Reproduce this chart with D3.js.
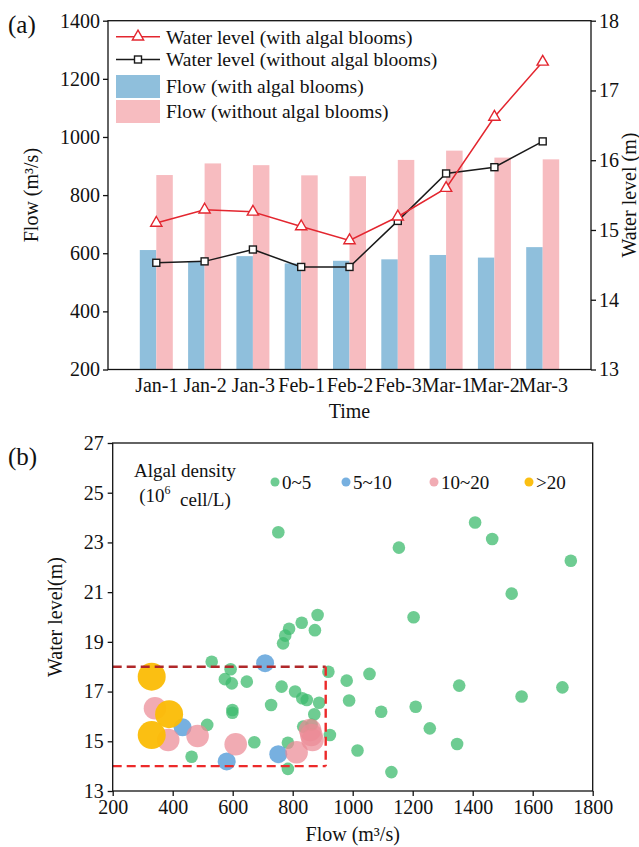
<!DOCTYPE html>
<html><head><meta charset="utf-8">
<script src="https://cdn.jsdelivr.net/npm/d3@7"></script>
<style>
body{margin:0;background:#fff;}
svg{display:block;}
text{font-family:"Liberation Serif","Times New Roman","DejaVu Serif",serif;fill:#111;}
</style></head>
<body>
<script>
// ---------- Data (a) ----------
const categories = ["Jan-1","Jan-2","Jan-3","Feb-1","Feb-2","Feb-3","Mar-1","Mar-2","Mar-3"];
const flowWith    = [611, 571, 590, 565, 574, 579, 594, 585, 621];
const flowWithout = [869, 909, 903, 868, 865, 921, 953, 929, 923];
const levelWith    = [15.10, 15.29, 15.26, 15.05, 14.85, 15.19, 15.60, 16.62, 17.41];
const levelWithout = [14.53, 14.55, 14.72, 14.47, 14.47, 15.13, 15.81, 15.90, 16.27];
const flowTicks  = [200, 400, 600, 800, 1000, 1200, 1400];
const levelTicks = [13, 14, 15, 16, 17, 18];

// ---------- Data (b) ----------
const green = [
 [752,23.41],[1408,23.8],[1465,23.14],[1154,22.79],[1727,22.26],[1530,20.94],[1203,19.99],
 [883,20.08],[830,19.77],[874,19.47],[788,19.53],[775,19.25],[768,18.94],
 [530,18.2],[593,17.9],[574,17.5],[597,17.33],[647,17.4],[599,16.26],[599,16.15],
 [515,15.66],[463,14.38],
 [919,17.8],[980,17.44],[1056,17.71],[763,17.2],[808,17.0],[832,16.73],[847,16.66],[888,16.55],
 [988,16.64],[728,16.46],[872,16.09],[1095,16.19],[835,15.59],[863,15.66],[924,15.25],
 [672,14.96],[784,14.94],[1016,14.63],[784,13.89],
 [1355,17.24],[1699,17.17],[1563,16.8],[1210,16.39],[1257,15.52],[1348,14.89],[1129,13.76]
];
const blue   = [[708,18.14],[433,15.56],[752,14.48],[580,14.19]];
const pink   = [[341,16.33],[385,15.05],[483,15.21],[610,14.88],[813,14.56],[858,15.45],[862,15.25],[866,15.05]];
const orange = [[330,17.6],[388,16.09],[330,15.25]];
const xTicksB = [200,400,600,800,1000,1200,1400,1600,1800];
const yTicksB = [13,15,17,19,21,23,25,27];
const densityLabels = ["0~5","5~10","10~20",">20"];
const boxRange = {x0:200, x1:910, y0:14, y1:18};

const W = 639, H = 847;
const svg = d3.select("body").append("svg").attr("width", W).attr("height", H);
const FS = 20, LFS = 19.5;
const FONT = "Liberation Serif, Times New Roman, serif";

// ================= Chart (a) =================
const aL = 108, aR = 591, aT = 20.7, aB = 369.5;
const xA = d3.scalePoint().domain(categories).range([aL, aR]).padding(1);
const yL = d3.scaleLinear().domain([200, 1400]).range([aB, aT]);
const yR = d3.scaleLinear().domain([13, 18]).range([aB, aT]);
const bw = 16.5;
const cBlue = "#8fbfdc", cPink = "#f7bcc0", cRed = "#e3262f", cBlack = "#1a1a1a";

const gA = svg.append("g");
gA.selectAll(".bw").data(categories).enter().append("rect")
  .attr("x", d => xA(d) - bw).attr("width", bw)
  .attr("y", (d,i) => yL(flowWith[i])).attr("height", (d,i) => yL(200) - yL(flowWith[i]))
  .attr("fill", cBlue);
gA.selectAll(".bwo").data(categories).enter().append("rect")
  .attr("x", d => xA(d)).attr("width", bw)
  .attr("y", (d,i) => yL(flowWithout[i])).attr("height", (d,i) => yL(200) - yL(flowWithout[i]))
  .attr("fill", cPink);

const lineGen = d3.line().x((d,i) => xA(categories[i])).y(d => yR(d));
gA.append("path").datum(levelWithout).attr("d", lineGen).attr("fill","none").attr("stroke",cBlack).attr("stroke-width",1.5);
gA.append("path").datum(levelWith).attr("d", lineGen).attr("fill","none").attr("stroke",cRed).attr("stroke-width",1.5);

const sq = 7;
gA.selectAll(".sq").data(levelWithout).enter().append("rect")
  .attr("x",(d,i)=>xA(categories[i]) - sq/2).attr("y", d => yR(d) - sq/2)
  .attr("width",sq).attr("height",sq).attr("fill","#fff").attr("stroke",cBlack).attr("stroke-width",1.4);
const tri = d3.symbol().type(d3.symbolTriangle).size(55);
gA.selectAll(".tri").data(levelWith).enter().append("path")
  .attr("d", tri).attr("transform",(d,i)=>`translate(${xA(categories[i])},${yR(d)})`)
  .attr("fill","#fff").attr("stroke",cRed).attr("stroke-width",1.4);

// frame
gA.append("rect").attr("x",aL).attr("y",aT).attr("width",aR-aL).attr("height",aB-aT)
  .attr("fill","none").attr("stroke","#111").attr("stroke-width",1.3);

const axL = gA.append("g").attr("transform",`translate(${aL},0)`)
  .call(d3.axisLeft(yL).tickValues(flowTicks).tickSize(5).tickPadding(3).tickFormat(d3.format("d")));
const axR = gA.append("g").attr("transform",`translate(${aR},0)`)
  .call(d3.axisRight(yR).tickValues(levelTicks).tickSize(5).tickPadding(3).tickFormat(d3.format("d")));
const axB = gA.append("g").attr("transform",`translate(0,${aB})`)
  .call(d3.axisBottom(xA).tickSize(0).tickPadding(8));
[axL, axR, axB].forEach(g => {
  g.attr("font-family", FONT);
  g.select(".domain").remove();
  g.selectAll("line").attr("stroke","#111").attr("stroke-width",1.3);
  g.selectAll("text").attr("font-size",FS).attr("fill","#111");
});

gA.append("text").attr("transform",`translate(38,${(aT+aB)/2}) rotate(-90)`)
  .attr("text-anchor","middle").attr("font-size",FS).text("Flow (m³/s)");
gA.append("text").attr("transform",`translate(636,${(aT+aB)/2}) rotate(-90)`)
  .attr("text-anchor","middle").attr("font-size",FS).text("Water level (m)");
gA.append("text").attr("x",(aL+aR)/2).attr("y",418).attr("text-anchor","middle").attr("font-size",FS).text("Time");
gA.append("text").attr("x",8).attr("y",33).attr("font-size",25).text("(a)");

// legend (a)
const lg = gA.append("g");
const lx0 = 116, lx1 = 160, ltx = 166;
lg.append("line").attr("x1",lx0).attr("x2",lx1).attr("y1",36.7).attr("y2",36.7).attr("stroke",cRed).attr("stroke-width",1.5);
lg.append("path").attr("d",tri).attr("transform",`translate(${(lx0+lx1)/2},36.7)`).attr("fill","#fff").attr("stroke",cRed).attr("stroke-width",1.4);
lg.append("text").attr("x",ltx).attr("y",36.7).attr("dy","0.35em").attr("font-size",LFS).text("Water level (with algal blooms)");
lg.append("line").attr("x1",lx0).attr("x2",lx1).attr("y1",59.5).attr("y2",59.5).attr("stroke",cBlack).attr("stroke-width",1.5);
lg.append("rect").attr("x",(lx0+lx1)/2 - sq/2).attr("y",59.5 - sq/2).attr("width",sq).attr("height",sq).attr("fill","#fff").attr("stroke",cBlack).attr("stroke-width",1.4);
lg.append("text").attr("x",ltx).attr("y",59.5).attr("dy","0.35em").attr("font-size",LFS).text("Water level (without algal blooms)");
lg.append("rect").attr("x",lx0).attr("y",75).attr("width",lx1-lx0).attr("height",23).attr("fill",cBlue);
lg.append("text").attr("x",ltx).attr("y",86).attr("dy","0.35em").attr("font-size",LFS).text("Flow (with algal blooms)");
lg.append("rect").attr("x",lx0).attr("y",100).attr("width",lx1-lx0).attr("height",23).attr("fill",cPink);
lg.append("text").attr("x",ltx).attr("y",111).attr("dy","0.35em").attr("font-size",LFS).text("Flow (without algal blooms)");

// ================= Chart (b) =================
const bL = 112.7, bR = 592.7, bT = 443, bB = 791;
const xB = d3.scaleLinear().domain([200,1800]).range([bL,bR]);
const yB = d3.scaleLinear().domain([13,27]).range([bB,bT]);
const gB = svg.append("g");

const groups = [
  {data: green,  r: 6.3,  fill: "#3dbb6e", op: 0.75},
  {data: blue,   r: 9,    fill: "#4a95d6", op: 0.75},
  {data: pink,   r: 11.3, fill: "#ec8a95", op: 0.72},
  {data: orange, r: 14,   fill: "#fbbc05", op: 0.95}
];
groups.forEach(g => {
  gB.append("g").selectAll("circle").data(g.data).enter().append("circle")
    .attr("cx", d => xB(d[0])).attr("cy", d => yB(d[1])).attr("r", g.r)
    .attr("fill", g.fill).attr("fill-opacity", g.op);
});

// dashed box
const dash = "9,5";
gB.append("line").attr("x1",xB(boxRange.x0)).attr("x2",xB(boxRange.x1)).attr("y1",yB(boxRange.y1)).attr("y2",yB(boxRange.y1))
  .attr("stroke","#b0282a").attr("stroke-width",2.4).attr("stroke-dasharray",dash);
gB.append("line").attr("x1",xB(boxRange.x0)).attr("x2",xB(boxRange.x1)).attr("y1",yB(boxRange.y0)).attr("y2",yB(boxRange.y0))
  .attr("stroke","#ec2a2a").attr("stroke-width",2.4).attr("stroke-dasharray",dash);
gB.append("line").attr("x1",xB(boxRange.x1)).attr("x2",xB(boxRange.x1)).attr("y1",yB(boxRange.y1)).attr("y2",yB(boxRange.y0))
  .attr("stroke","#ec2a2a").attr("stroke-width",2.4).attr("stroke-dasharray",dash);

gB.append("rect").attr("x",bL).attr("y",bT).attr("width",bR-bL).attr("height",bB-bT)
  .attr("fill","none").attr("stroke","#111").attr("stroke-width",1.3);
const bxL = gB.append("g").attr("transform",`translate(${bL},0)`)
  .call(d3.axisLeft(yB).tickValues(yTicksB).tickSize(5).tickPadding(4).tickFormat(d3.format("d")));
const bxB = gB.append("g").attr("transform",`translate(0,${bB})`)
  .call(d3.axisBottom(xB).tickValues(xTicksB).tickSize(5).tickPadding(4).tickFormat(d3.format("d")));
[bxL, bxB].forEach(g => {
  g.attr("font-family", FONT);
  g.select(".domain").remove();
  g.selectAll("line").attr("stroke","#111").attr("stroke-width",1.3);
  g.selectAll("text").attr("font-size",FS).attr("fill","#111");
});
gB.append("text").attr("transform",`translate(62,${(bT+bB)/2}) rotate(-90)`)
  .attr("text-anchor","middle").attr("font-size",FS).text("Water level(m)");
gB.append("text").attr("x",(bL+bR)/2).attr("y",841).attr("text-anchor","middle").attr("font-size",FS).text("Flow (m³/s)");
gB.append("text").attr("x",8).attr("y",465).attr("font-size",25).text("(b)");

// legend (b)
gB.append("text").attr("x",185).attr("y",470).attr("dy","0.35em").attr("text-anchor","middle").attr("font-size",19).text("Algal density");
const t2 = gB.append("text").attr("x",185).attr("y",495).attr("dy","0.35em").attr("text-anchor","middle").attr("font-size",19);
t2.append("tspan").text("(10");
t2.append("tspan").attr("font-size",12).attr("dy","-0.6em").text("6");
t2.append("tspan").attr("dy","0.6em").text("\u00a0 cell/L)");
const legX = [275, 346, 434, 529];
groups.forEach((g,i) => {
  gB.append("circle").attr("cx",legX[i]).attr("cy",482).attr("r",4.5).attr("fill",g.fill).attr("fill-opacity",g.op);
  gB.append("text").attr("x",legX[i]+7).attr("y",482).attr("dy","0.35em").attr("font-size",19).text(densityLabels[i]);
});
</script>
</body></html>
